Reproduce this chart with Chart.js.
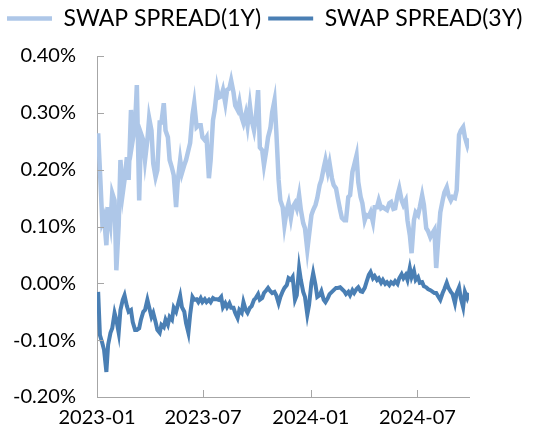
<!DOCTYPE html>
<html>
<head>
<meta charset="utf-8">
<script src="https://cdn.jsdelivr.net/npm/chart.js@4.4.1/dist/chart.umd.min.js"></script>
<style>
  html, body { margin: 0; padding: 0; background: #fff; }
  #wrap { width: 533px; height: 437px; }
</style>
</head>
<body>
<div id="wrap"><canvas id="spreadChart"></canvas></div>
<script>
// twice-weekly observations (Tue / Fri)
const dates = [
  '2023-01-03','2023-01-06','2023-01-10','2023-01-13','2023-01-17','2023-01-20','2023-01-24','2023-01-27','2023-01-31','2023-02-03',
  '2023-02-07','2023-02-10','2023-02-14','2023-02-17','2023-02-21','2023-02-24','2023-02-28','2023-03-03','2023-03-07','2023-03-10',
  '2023-03-14','2023-03-17','2023-03-21','2023-03-24','2023-03-28','2023-03-31','2023-04-04','2023-04-07','2023-04-11','2023-04-14',
  '2023-04-18','2023-04-21','2023-04-25','2023-04-28','2023-05-02','2023-05-05','2023-05-09','2023-05-12','2023-05-16','2023-05-19',
  '2023-05-23','2023-05-26','2023-05-30','2023-06-02','2023-06-06','2023-06-09','2023-06-13','2023-06-16','2023-06-20','2023-06-23',
  '2023-06-27','2023-06-30','2023-07-04','2023-07-07','2023-07-11','2023-07-14','2023-07-18','2023-07-21','2023-07-25','2023-07-28',
  '2023-08-01','2023-08-04','2023-08-08','2023-08-11','2023-08-15','2023-08-18','2023-08-22','2023-08-25','2023-08-29','2023-09-01',
  '2023-09-05','2023-09-08','2023-09-12','2023-09-15','2023-09-19','2023-09-22','2023-09-26','2023-09-29','2023-10-03','2023-10-06',
  '2023-10-10','2023-10-13','2023-10-17','2023-10-20','2023-10-24','2023-10-27','2023-10-31','2023-11-03','2023-11-07','2023-11-10',
  '2023-11-14','2023-11-17','2023-11-21','2023-11-24','2023-11-28','2023-12-01','2023-12-05','2023-12-08','2023-12-12','2023-12-15',
  '2023-12-19','2023-12-22','2023-12-26','2023-12-29','2024-01-02','2024-01-05','2024-01-09','2024-01-12','2024-01-16','2024-01-19',
  '2024-01-23','2024-01-26','2024-01-30','2024-02-02','2024-02-06','2024-02-09','2024-02-13','2024-02-16','2024-02-20','2024-02-23',
  '2024-02-27','2024-03-01','2024-03-05','2024-03-08','2024-03-12','2024-03-15','2024-03-19','2024-03-22','2024-03-26','2024-03-29',
  '2024-04-02','2024-04-05','2024-04-09','2024-04-12','2024-04-16','2024-04-19','2024-04-23','2024-04-26','2024-04-30','2024-05-03',
  '2024-05-07','2024-05-10','2024-05-14','2024-05-17','2024-05-21','2024-05-24','2024-05-28','2024-05-31','2024-06-04','2024-06-07',
  '2024-06-11','2024-06-14','2024-06-18','2024-06-21','2024-06-25','2024-06-28','2024-07-02','2024-07-05','2024-07-09','2024-07-12',
  '2024-07-16','2024-07-19','2024-07-23','2024-07-26','2024-07-30','2024-08-02','2024-08-06','2024-08-09','2024-08-13','2024-08-16',
  '2024-08-20','2024-08-23','2024-08-27','2024-08-30','2024-09-03','2024-09-06','2024-09-10','2024-09-13','2024-09-17','2024-09-20',
  '2024-09-24','2024-09-27'
];

// spreads in percent
const swap1y = [
  0.264, 0.199, 0.108, 0.117, 0.067, 0.134, 0.106, 0.159, 0.146, 0.023,
  0.102, 0.217, 0.159, 0.182, 0.222, 0.182, 0.305, 0.252, 0.278, 0.349,
  0.146, 0.264, 0.252, 0.217, 0.252, 0.291, 0.269, 0.211, 0.187, 0.199,
  0.283, 0.283, 0.317, 0.269, 0.257, 0.217, 0.203, 0.190, 0.134, 0.182,
  0.217, 0.194, 0.208, 0.217, 0.234, 0.247, 0.296, 0.317, 0.275, 0.278,
  0.278, 0.257, 0.252, 0.257, 0.185, 0.217, 0.287, 0.305, 0.343, 0.327,
  0.329, 0.340, 0.317, 0.340, 0.343, 0.357, 0.336, 0.313, 0.305, 0.319,
  0.292, 0.282, 0.299, 0.278, 0.313, 0.287, 0.269, 0.291, 0.340, 0.239,
  0.234, 0.208, 0.234, 0.257, 0.273, 0.301, 0.322, 0.269, 0.182, 0.146,
  0.134, 0.102, 0.129, 0.141, 0.115, 0.134, 0.141, 0.132, 0.155, 0.129,
  0.106, 0.097, 0.059, 0.085, 0.120, 0.129, 0.138, 0.150, 0.173, 0.182,
  0.203, 0.217, 0.196, 0.211, 0.185, 0.173, 0.167, 0.150, 0.129, 0.115,
  0.111, 0.111, 0.152, 0.155, 0.196, 0.208, 0.225, 0.178, 0.152, 0.141,
  0.111, 0.120, 0.118, 0.125, 0.108, 0.134, 0.134, 0.146, 0.132, 0.134,
  0.131, 0.129, 0.141, 0.143, 0.131, 0.132, 0.155, 0.167, 0.146, 0.138,
  0.146, 0.111, 0.085, 0.053, 0.111, 0.125, 0.120, 0.134, 0.155, 0.138,
  0.097, 0.092, 0.081, 0.087, 0.094, 0.027, 0.085, 0.125, 0.146, 0.160,
  0.169, 0.155, 0.146, 0.152, 0.150, 0.164, 0.261, 0.269, 0.275, 0.257,
  0.243, 0.255
];

const swap3y = [
  -0.015, -0.091, -0.105, -0.117, -0.156, -0.108, -0.087, -0.079, -0.052, -0.064,
  -0.087, -0.047, -0.029, -0.021, -0.040, -0.050, -0.047, -0.068, -0.082, -0.082,
  -0.079, -0.064, -0.050, -0.047, -0.029, -0.042, -0.059, -0.052, -0.068, -0.082,
  -0.087, -0.073, -0.077, -0.064, -0.073, -0.059, -0.064, -0.043, -0.050, -0.038,
  -0.022, -0.042, -0.050, -0.070, -0.087, -0.055, -0.024, -0.029, -0.028, -0.033,
  -0.026, -0.033, -0.028, -0.033, -0.029, -0.033, -0.026, -0.028, -0.028, -0.029,
  -0.024, -0.042, -0.035, -0.042, -0.035, -0.043, -0.043, -0.052, -0.061, -0.047,
  -0.052, -0.033, -0.047, -0.052, -0.043, -0.040, -0.029, -0.026, -0.019, -0.029,
  -0.026, -0.017, -0.012, -0.008, -0.014, -0.017, -0.015, -0.021, -0.035, -0.024,
  -0.014, -0.008, -0.003, 0.009, 0.006, 0.011, -0.029, -0.021, 0.027, 0.006,
  -0.015, -0.024, -0.055, -0.038, 0.001, 0.018, -0.003, -0.024, -0.021, -0.014,
  -0.029, -0.033, -0.026, -0.019, -0.015, -0.012, -0.008, -0.008, -0.007, -0.010,
  -0.014, -0.019, -0.015, -0.021, -0.012, -0.017, -0.010, -0.007, -0.014, -0.015,
  -0.008, 0.002, 0.015, 0.020, 0.009, 0.013, 0.006, 0.009, 0.001, 0.006,
  -0.001, 0.002, -0.003, 0.002, -0.001, 0.004, -0.001, 0.009, 0.016, 0.009,
  0.015, 0.006, 0.027, 0.011, 0.022, 0.006, 0.011, 0.001, 0.002, -0.005,
  -0.007, -0.010, -0.012, -0.014, -0.017, -0.017, -0.024, -0.029, -0.017, -0.010,
  0.001, -0.008, -0.015, -0.019, -0.035, -0.017, -0.007, -0.026, -0.042, -0.015,
  -0.026, -0.017
];

const tickLabels = ['2023-01', '2023-07', '2024-01', '2024-07'];

const ORIGIN = Date.UTC(2023, 0, 1);
function dayOf(s) {
  const [y, m, d] = s.split('-').map(Number);
  return (Date.UTC(y, m - 1, d || 1) - ORIGIN) / 86400000;
}

const xs = dates.map(dayOf);
const xTickValues = tickLabels.map(dayOf);
const axisColor = '#a6a6a6';
const font = { family: 'Lato', size: 20 };

// Excel-style tick marks pointing into the plot
const innerTicks = {
  id: 'innerTicks',
  afterDraw(chart) {
    const { ctx, chartArea, scales } = chart;
    ctx.save();
    ctx.strokeStyle = axisColor;
    ctx.lineWidth = 1;
    ctx.beginPath();
    scales.y.ticks.forEach(t => {
      const y = Math.round(scales.y.getPixelForValue(t.value)) + 0.5;
      ctx.moveTo(chartArea.left, y);
      ctx.lineTo(chartArea.left + 7, y);
    });
    scales.x.ticks.forEach(t => {
      const x = Math.round(scales.x.getPixelForValue(t.value)) + 0.5;
      ctx.moveTo(x, chartArea.bottom);
      ctx.lineTo(x, chartArea.bottom - 7);
    });
    ctx.stroke();
    ctx.restore();
  }
};

// blank scale used only to reserve room beside the plot
const spacer = (position, size) => ({
  position,
  display: true,
  grid: { display: false },
  border: { display: false },
  ticks: { display: false },
  afterFit: scale => {
    if (position === 'top') scale.height = size;
    else scale.width = size;
  }
});

const ctx = document.getElementById('spreadChart').getContext('2d');
new Chart(ctx, {
  type: 'line',
  data: {
    datasets: [
      {
        label: 'SWAP SPREAD(1Y)',
        data: xs.map((x, i) => ({ x, y: swap1y[i] })),
        borderColor: '#aec7e8',
        backgroundColor: '#aec7e8',
        borderWidth: 4.5,
        pointRadius: 0,
        tension: 0,
        order: 1
      },
      {
        label: 'SWAP SPREAD(3Y)',
        data: xs.map((x, i) => ({ x, y: swap3y[i] })),
        borderColor: '#4a7fb4',
        backgroundColor: '#4a7fb4',
        borderWidth: 4,
        pointRadius: 0,
        tension: 0,
        order: 0
      }
    ]
  },
  options: {
    responsive: true,
    maintainAspectRatio: false,
    animation: false,
    layout: { padding: 0 },
    plugins: {
      legend: {
        display: true,
        position: 'top',
        align: 'start',
        labels: {
          usePointStyle: true,
          pointStyle: 'line',
          pointStyleWidth: 45,
          color: '#000',
          font: { family: 'Lato', size: 23 },
          padding: 7,
          sort: (a, b) => a.datasetIndex - b.datasetIndex
        }
      },
      tooltip: { enabled: false }
    },
    scales: {
      x: {
        type: 'linear',
        min: 0,
        max: 635,
        grid: { drawOnChartArea: false, drawTicks: false },
        border: { color: axisColor, width: 1 },
        afterBuildTicks: scale => {
          scale.ticks = xTickValues.map(v => ({ value: v }));
        },
        afterFit: scale => { scale.height = 40; },
        ticks: {
          autoSkip: false,
          maxRotation: 0,
          padding: 9,
          color: '#000',
          font,
          callback: (v, i) => tickLabels[i]
        }
      },
      y: {
        min: -0.2,
        max: 0.4,
        grid: { drawOnChartArea: false, drawTicks: false },
        border: { color: axisColor, width: 1 },
        afterFit: scale => { scale.width = 97; },
        ticks: {
          stepSize: 0.1,
          padding: 21,
          color: '#000',
          font,
          callback: v => v.toFixed(2) + '%'
        }
      },
      xTopGap: { ...spacer('top', 16), axis: 'x', type: 'linear' },
      yRightGap: { ...spacer('right', 64), axis: 'y', type: 'linear' }
    }
  },
  plugins: [innerTicks]
});
</script>
</body>
</html>
